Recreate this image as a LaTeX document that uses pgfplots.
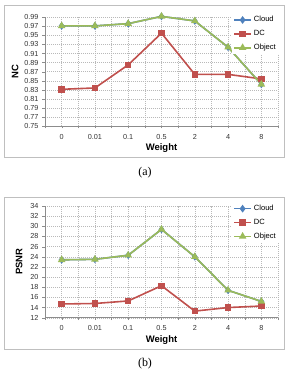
\documentclass[border=0pt]{standalone}
\usepackage{pgfplots}
\pgfplotsset{compat=1.18}
\usepackage{fontspec}
\setmainfont{Liberation Sans}
\newfontfamily\capfont{Liberation Serif}

\definecolor{cloudblue}{HTML}{4F81BD}
\definecolor{dcred}{HTML}{C0504D}
\definecolor{objgreen}{HTML}{9BBB59}
\definecolor{framegray}{HTML}{BFBFBF}
\definecolor{axisgray}{HTML}{8C8C8C}

\pgfplotsset{
  weightaxis/.style={
    scale only axis,
    width=233bp,
    clip=false,
    xmin=-0.5, xmax=6.5,
    xtick={0,...,6},
    xticklabels={0,0.01,0.1,0.5,2,4,8},
    minor xtick={-0.5,0.5,...,6.5},
    xmajorgrids, xminorgrids, ymajorgrids,
    grid style={gray!55, line width=0.4pt, dash pattern=on 1pt off 1pt},
    axis x line*=bottom, axis y line*=left,
    axis line style={axisgray, line width=0.6pt, -},
    tick style={axisgray},
    minor tick style={axisgray},
    tick align=outside,
    major tick length=2.5bp, minor tick length=2.5bp,
    ticklabel style={font=\fontsize{7.3}{8}\selectfont, text=black!80},
    yticklabel style={/pgf/number format/fixed, /pgf/number format/fixed zerofill, xshift=-0.5bp},
    /pgf/number format/assume math mode=true,
    xticklabel style={yshift=-2bp},
    xlabel={Weight},
    xlabel style={font=\bfseries\fontsize{9.5}{10}\selectfont, yshift=2bp},
    ylabel style={font=\bfseries\fontsize{9.5}{10}\selectfont},
    legend style={draw=none, fill=white, at={(rel axis cs:1,1)}, anchor=north east,
      font=\fontsize{7.6}{8}\selectfont, row sep=3bp, inner sep=1bp,
      xshift=1bp, yshift=4bp},
    legend cell align=left,
    every axis plot/.append style={line width=1.6bp},
  },
  cloud/.style={cloudblue, mark=diamond*, mark size=2.6bp, mark options={solid}},
  dc/.style={dcred, mark=square*, mark size=2.4bp, mark options={solid}},
  obj/.style={objgreen, mark=triangle*, mark size=2.8bp, mark options={solid}},
}

\begin{document}
\begin{tikzpicture}
\useasboundingbox (0bp,0bp) rectangle (287bp,376bp);

% frames around the two panels
\draw[framegray, line width=0.8bp] (4bp,219bp) rectangle (284bp,371bp);
\draw[framegray, line width=0.8bp] (4bp,27bp) rectangle (284bp,179bp);

% (a) NC versus weight
\begin{axis}[weightaxis,
  at={(45bp,250bp)}, anchor=south west,
  height=108.7bp,
  ymin=0.75, ymax=0.99,
  ytick={0.75,0.77,...,0.991},
  yticklabel style={/pgf/number format/precision=2},
  ylabel={NC}, ylabel style={yshift=-1bp},
]
\addplot[cloud] coordinates {(0,0.971) (1,0.971) (2,0.976) (3,0.992) (4,0.982) (5,0.924) (6,0.842)};
\addlegendentry{Cloud}
\addplot[dc] coordinates {(0,0.831) (1,0.834) (2,0.885) (3,0.955) (4,0.864) (5,0.864) (6,0.854)};
\addlegendentry{DC}
\addplot[obj] coordinates {(0,0.971) (1,0.971) (2,0.976) (3,0.992) (4,0.982) (5,0.924) (6,0.842)};
\addlegendentry{Object}
\end{axis}
\node[font=\capfont\fontsize{12}{14}\selectfont] at (145bp,203bp) {(a)};

% (b) PSNR versus weight
\begin{axis}[weightaxis,
  at={(45bp,58.3bp)}, anchor=south west,
  height=111.7bp,
  ymin=12, ymax=34,
  ytick={12,14,...,34},
  yticklabel style={/pgf/number format/precision=0, /pgf/number format/fixed zerofill=false},
  ylabel={PSNR}, ylabel style={yshift=1bp},
]
\addplot[cloud] coordinates {(0,23.4) (1,23.5) (2,24.3) (3,29.4) (4,24.0) (5,17.4) (6,15.2)};
\addlegendentry{Cloud}
\addplot[dc] coordinates {(0,14.7) (1,14.8) (2,15.3) (3,18.3) (4,13.3) (5,14.0) (6,14.3)};
\addlegendentry{DC}
\addplot[obj] coordinates {(0,23.4) (1,23.5) (2,24.3) (3,29.4) (4,24.0) (5,17.4) (6,15.2)};
\addlegendentry{Object}
\end{axis}
\node[font=\capfont\fontsize{12}{14}\selectfont] at (145bp,12bp) {(b)};
\end{tikzpicture}
\end{document}
